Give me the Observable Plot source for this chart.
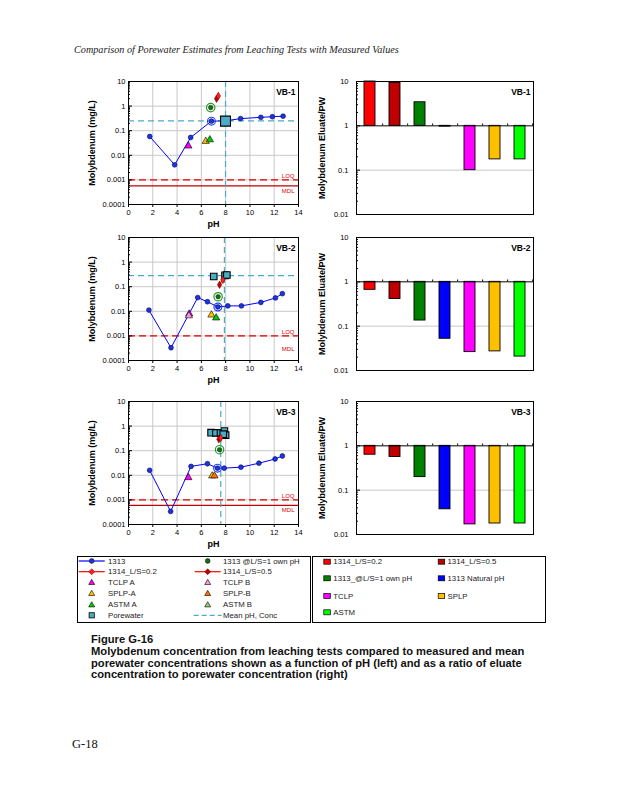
<!DOCTYPE html>
<html><head><meta charset="utf-8">
<script src="https://cdn.jsdelivr.net/npm/d3@7"></script>
<script src="https://cdn.jsdelivr.net/npm/@observablehq/plot@0.6"></script>
<style>
body{margin:0;background:#fff;}
#page{position:relative;width:618px;height:800px;overflow:hidden;font-family:"Liberation Sans",Arial,sans-serif;}
.abs{position:absolute;white-space:nowrap;}
</style></head><body><div id="page"></div>
<script>
// ---------- data ----------
const panels = ["VB-1", "VB-2", "VB-3"];
const xTicksPH = [0, 2, 4, 6, 8, 10, 12, 14];
const yTicksConc = [10, 1, 0.1, 0.01, 0.001, 0.0001];
const yTickLabelsConc = ["10", "1", "0.1", "0.01", "0.001", "0.0001"];
const yTicksRatio = [10, 1, 0.1, 0.01];
const yTickLabelsRatio = ["10", "1", "0.1", "0.01"];
const barCategories = ["1314_L/S=0.2", "1314_L/S=0.5", "1313_@L/S=1 own pH", "1313 Natural pH", "TCLP", "SPLP", "ASTM"];
const barColors = ["#ff0000", "#c00000", "#008000", "#0000ff", "#ff00ff", "#ffc000", "#00ff00"];

// 1313 titration series (pH, mg/L)
const ph1313 = [
  [1.75, 3.8, 5.12, 6.83, 7.95, 9.23, 10.9, 11.85, 12.73],
  [1.68, 3.5, 5.7, 6.5, 7.36, 8.18, 9.3, 10.9, 12.1, 12.67],
  [1.74, 3.47, 5.15, 6.5, 7.33, 7.88, 9.26, 10.74, 12.07, 12.67]
];
const mo1313 = [
  [0.058, 0.0041, 0.053, 0.245, 0.25, 0.31, 0.35, 0.37, 0.39],
  [0.0112, 0.00033, 0.036, 0.0245, 0.015, 0.0166, 0.0166, 0.023, 0.035, 0.052],
  [0.016, 0.00034, 0.023, 0.0295, 0.0195, 0.0195, 0.0214, 0.031, 0.046, 0.061]
];
const phNatural = [6.83, 7.36, 7.33];
const moNatural = [0.245, 0.015, 0.0195];
const phOwn = [6.77, 7.38, 7.5];
const moOwn = [0.87, 0.039, 0.11];
const ph1314_02 = [7.4, 7.77, 7.6];
const mo1314_02 = [2.6, 0.19, 0.33];
const ph1314_05 = [7.25, 7.5, 7.44];
const mo1314_05 = [2.0, 0.12, 0.29];
const tclpA = [[[4.93, 0.024]], [[5.0, 0.0078]], [[4.93, 0.0081]]];
const tclpB = [[], [[4.97, 0.0066]], []];
const splpA = [[[6.36, 0.037]], [[6.83, 0.0071]], [[6.89, 0.0095]]];
const splpB = [[], [], [[7.08, 0.0095]]];
const astmA = [[[6.7, 0.043]], [[7.22, 0.0054]], []];
const astmB = [[], [], []];
const porewater = [
  [[7.99, 0.245]],
  [[7.02, 0.26], [7.95, 0.29], [8.1, 0.30]],
  [[6.8, 0.54], [7.2, 0.53], [7.58, 0.53], [7.9, 0.63], [8.0, 0.43], [7.8, 0.47]]
];
const meanPH = [7.99, 7.9, 7.6];
const meanConc = [0.25, 0.28, null];
const loq = [0.001, 0.001, 0.001];
const mdl = [0.00057, null, 0.0006];
const mdlLabelAt = [0.00057, 0.00045, 0.0006];
// eluate / porewater ratios
const ratios = [
  [10, 9.3, 3.4, 0.96, 0.1, 0.175, 0.175],
  [0.66, 0.41, 0.134, 0.052, 0.026, 0.027, 0.0206],
  [0.63, 0.56, 0.197, 0.037, 0.0169, 0.0177, 0.0177]
];

// ---------- layout ----------
const page = document.getElementById("page");
const frameTops = [81, 237, 401];
const FONT = "Liberation Sans, Arial, sans-serif";
const cyan = "#4bacc6";

function minorTicks(lo, hi) {
  const t = [];
  for (let e = lo; e < hi; e++) for (let k = 2; k <= 9; k++) t.push(k * Math.pow(10, e));
  return t;
}

function place(el, left, top) {
  el.style.position = "absolute";
  el.style.left = left + "px";
  el.style.top = top + "px";
  page.appendChild(el);
}

function leftPlot(i) {
  const pts = ph1313[i].map((x, j) => ({x, y: mo1313[i][j]}));
  const pairs14 = [{x: ph1314_05[i], y: mo1314_05[i], c: "#c00000"}, {x: ph1314_02[i], y: mo1314_02[i], c: "#ff2020"}];
  const tri = (arr, color) => Plot.dot(arr, {x: d => d[0], y: d => d[1], symbol: "triangle", r: 2.7, fill: color, stroke: "#000", strokeWidth: 0.6});
  const marks = [
    Plot.gridX(xTicksPH, {stroke: "#c8c8c8", strokeOpacity: 1}),
    Plot.gridY(yTicksConc, {stroke: "#c8c8c8", strokeOpacity: 1}),
    Plot.ruleY([loq[i]], {stroke: "#e00000", strokeWidth: 1.3, strokeDasharray: "7,4"}),
    mdl[i] != null ? Plot.ruleY([mdl[i]], {stroke: "#c00000", strokeWidth: 1.1}) : null,
    Plot.text(["LOQ"], {x: 14, y: loq[i], dx: -4, dy: -4, text: d => d, textAnchor: "end", fill: "#d00000", fontSize: 6}),
    Plot.text(["MDL"], {x: 14, y: mdlLabelAt[i], dx: -4, dy: 5, text: d => d, textAnchor: "end", fill: "#d00000", fontSize: 6}),
    Plot.ruleX([meanPH[i]], {stroke: cyan, strokeWidth: 1.2, strokeDasharray: "6,4"}),
    meanConc[i] != null ? Plot.ruleY([meanConc[i]], {stroke: cyan, strokeWidth: 1.2, strokeDasharray: "6,4"}) : null,
    Plot.line(pts, {x: "x", y: "y", stroke: "#0000ff", strokeWidth: 1}),
    Plot.dot(pts, {x: "x", y: "y", r: 2.4, fill: "#1f35d6", stroke: "#000070", strokeWidth: 0.6}),
    tri(tclpA[i], "#ff00ff"), tri(tclpB[i], "#ff99dd"),
    tri(splpA[i], "#ffc000"), tri(splpB[i], "#ff7000"),
    tri(astmA[i], "#00cc00"), tri(astmB[i], "#99cc66"),
    Plot.dot(porewater[i], {x: d => d[0], y: d => d[1], symbol: "square", r: i === 0 ? 5.6 : 3.7, fill: cyan, stroke: "#000", strokeWidth: 1.1}),
    Plot.line(pairs14, {x: "x", y: "y", stroke: "#ff0000", strokeWidth: 1}),
    Plot.dot(pairs14, {x: "x", y: "y", symbol: "diamond", r: 2.3, fill: "c", stroke: "#600", strokeWidth: 0.5}),
    Plot.dot([[phOwn[i], moOwn[i]]], {x: d => d[0], y: d => d[1], r: 4.2, fill: "none", stroke: "#22a022", strokeWidth: 1.2}),
    Plot.dot([[phOwn[i], moOwn[i]]], {x: d => d[0], y: d => d[1], r: 2.3, fill: "#1a6a1a", stroke: "#003300", strokeWidth: 0.5}),
    Plot.dot([[phNatural[i], moNatural[i]]], {x: d => d[0], y: d => d[1], r: 3.9, fill: "none", stroke: "#2040ff", strokeWidth: 1.2}),
    Plot.frame({stroke: "#000", strokeWidth: 1}),
    Plot.axisX(xTicksPH, {tickSize: 3, tickPadding: 2, fontSize: 7.5, label: null}),
    Plot.axisY(yTicksConc, {tickSize: 0, tickPadding: 3, fontSize: 7.5, label: null, tickFormat: d => yTickLabelsConc[yTicksConc.indexOf(d)]}),
    Plot.axisY(yTicksConc, {tickSize: -4, tickFormat: () => "", label: null}),
    Plot.axisY(minorTicks(-4, 1), {tickSize: -2, tickFormat: () => "", label: null}),
    Plot.text([panels[i]], {frameAnchor: "top-right", dx: -3, dy: 7, text: d => d, fontWeight: "bold", fontSize: 8.5}),
    Plot.text(["pH"], {frameAnchor: "bottom", dy: 22, text: d => d, fontWeight: "bold", fontSize: 9}),
    Plot.text(["Molybdenum (mg/L)"], {frameAnchor: "left", textAnchor: "middle", dx: -36, rotate: -90, text: d => d, fontWeight: "bold", fontSize: 9})
  ].filter(Boolean);
  return Plot.plot({
    width: 230, height: 163, marginLeft: 40, marginRight: 20, marginTop: 8, marginBottom: 32,
    x: {domain: [0, 14]},
    y: {type: "log", domain: [0.0001, 10]},
    color: {type: "identity"},
    style: {fontFamily: FONT, fontSize: "7px", background: "transparent", overflow: "visible"},
    marks
  });
}

function rightPlot(i) {
  const bars = barCategories.map((c, j) => ({c, v: ratios[i][j], color: barColors[j]}));
  return Plot.plot({
    width: 227, height: 153, marginLeft: 40, marginRight: 10, marginTop: 8, marginBottom: 12,
    x: {domain: barCategories, paddingInner: 0.57, paddingOuter: 0.285, axis: null},
    y: {type: "log", domain: [0.01, 10]},
    color: {type: "identity"},
    style: {fontFamily: FONT, fontSize: "7px", background: "transparent", overflow: "visible"},
    marks: [
      Plot.gridY([0.1], {stroke: "#c8c8c8", strokeOpacity: 1}),
      Plot.barY(bars, {x: "c", y1: 1, y2: "v", fill: "color", stroke: "#000", strokeWidth: 0.9}),
      Plot.ruleY([1], {stroke: "#000", strokeWidth: 1}),
      Plot.ruleX(barCategories, {x: d => d, y1: 1, y2: 1.1, dx: 12.65, stroke: "#000"}),
      Plot.frame({stroke: "#000", strokeWidth: 1}),
      Plot.axisY(yTicksRatio, {tickSize: 0, tickPadding: 8, fontSize: 7.5, label: null, tickFormat: d => yTickLabelsRatio[yTicksRatio.indexOf(d)]}),
      Plot.axisY(yTicksRatio, {tickSize: -4, tickFormat: () => "", label: null}),
      Plot.axisY(minorTicks(-2, 1), {tickSize: -2, tickFormat: () => "", label: null}),
      Plot.text([panels[i]], {frameAnchor: "top-right", dx: -3, dy: 7, text: d => d, fontWeight: "bold", fontSize: 8.5}),
      Plot.text(["Molybdenum Eluate/PW"], {frameAnchor: "left", textAnchor: "middle", dx: -34, rotate: -90, text: d => d, fontWeight: "bold", fontSize: 9})
    ]
  });
}

panels.forEach((p, i) => {
  place(leftPlot(i), 88, frameTops[i] - 8);
  place(rightPlot(i), 316, frameTops[i] - 8);
});

// ---------- header, legend, caption ----------
function addText(txt, left, top, css) {
  const d = document.createElement("div");
  d.className = "abs";
  d.textContent = txt;
  d.style.left = left + "px";
  d.style.top = top + "px";
  d.style.cssText += css;
  page.appendChild(d);
  return d;
}
addText("Comparison of Porewater Estimates from Leaching Tests with Measured Values", 74, 44,
  "font-family:'Liberation Serif','Times New Roman',serif;font-style:italic;font-size:10.2px;color:#222;");

const NS = "http://www.w3.org/2000/svg";
const leg = document.createElementNS(NS, "svg");
leg.setAttribute("width", 618); leg.setAttribute("height", 80);
leg.style.position = "absolute"; leg.style.left = "0px"; leg.style.top = "550px";
leg.style.fontFamily = FONT;
let s = "";
const oy = 550;
s += `<rect x="77.5" y="${556.5 - oy}" width="233" height="66" fill="none" stroke="#000" stroke-width="1"/>`;
s += `<rect x="312.5" y="${556.5 - oy}" width="233" height="66" fill="none" stroke="#000" stroke-width="1"/>`;
const rowsL = [561, 571.7, 582.3, 593.3, 604.7, 615.3];
function tri(cx, cy, fill) {
  return `<path d="M${cx},${cy - 3} L${cx + 3},${cy + 2.2} L${cx - 3},${cy + 2.2} Z" fill="${fill}" stroke="#000" stroke-width="0.6"/>`;
}
function diam(cx, cy, fill) {
  return `<path d="M${cx},${cy - 3} L${cx + 3},${cy} L${cx},${cy + 3} L${cx - 3},${cy} Z" fill="${fill}" stroke="#600" stroke-width="0.5"/>`;
}
function txt(x, y, t) {
  return `<text x="${x}" y="${y}" dy="0.35em" font-size="7.8" fill="#222">${t}</text>`;
}
const lx = 91.7, rx = 207.7;
const leftItems = [
  ["line", "#0000ff", "circle", "#1f35d6", "1313"],
  ["line", "#ff0000", "diamond", "#ff2020", "1314_L/S=0.2"],
  ["none", null, "tri", "#ff00ff", "TCLP A"],
  ["none", null, "tri", "#ffc000", "SPLP-A"],
  ["none", null, "tri", "#00cc00", "ASTM A"],
  ["none", null, "square", cyan, "Porewater"]
];
const rightItems = [
  ["none", null, "circle", "#1a6a1a", "1313 @L/S=1 own pH"],
  ["line", "#ff0000", "diamond", "#c00000", "1314_L/S=0.5"],
  ["none", null, "tri", "#ff99dd", "TCLP B"],
  ["none", null, "tri", "#ff7000", "SPLP-B"],
  ["none", null, "tri", "#99cc66", "ASTM B"],
  ["dash", cyan, "none", null, "Mean pH, Conc"]
];
function item(it, cx, cy, textX) {
  const [ln, lc, mk, mc, label] = it;
  let r = "";
  if (ln === "line") r += `<line x1="${cx - 13}" x2="${cx + 13}" y1="${cy}" y2="${cy}" stroke="${lc}" stroke-width="1.2"/>`;
  if (ln === "dash") r += `<line x1="${cx - 14}" x2="${cx + 14}" y1="${cy}" y2="${cy}" stroke="${lc}" stroke-width="1.3" stroke-dasharray="5,3"/>`;
  if (mk === "circle") r += `<circle cx="${cx}" cy="${cy}" r="2.4" fill="${mc}" stroke="#000" stroke-width="0.5"/>`;
  if (mk === "diamond") r += diam(cx, cy, mc);
  if (mk === "tri") r += tri(cx, cy, mc);
  if (mk === "square") r += `<rect x="${cx - 2.6}" y="${cy - 2.6}" width="5.2" height="5.2" fill="${mc}" stroke="#000" stroke-width="0.8"/>`;
  r += txt(textX, cy, label);
  return r;
}
leftItems.forEach((it, k) => { s += item(it, lx, rowsL[k] - oy, 108); });
rightItems.forEach((it, k) => { s += item(it, rx, rowsL[k] - oy, 223); });

const rowsR = [561.7, 578.3, 596, 612.3];
barCategories.forEach((c, j) => {
  const row = Math.floor(j / 2), col = j % 2;
  const mx = col === 0 ? 327.3 : 441.7;
  const tx = col === 0 ? 333.3 : 447.5;
  const cy = rowsR[row] - oy;
  s += `<rect x="${mx - 3.5}" y="${cy - 2.5}" width="6.5" height="5" fill="${barColors[j]}" stroke="#000" stroke-width="0.7"/>`;
  s += txt(tx, cy, c);
});
leg.innerHTML = s;
page.appendChild(leg);

const cap = document.createElement("div");
cap.className = "abs";
cap.style.cssText += "left:91px;top:634px;font-family:'Liberation Sans',Arial,sans-serif;font-weight:bold;font-size:11.2px;line-height:11.8px;color:#111;";
cap.innerHTML = "Figure G-16<br>Molybdenum concentration from leaching tests compared to measured and mean<br>porewater concentrations shown as a function of pH (left) and as a ratio of eluate<br>concentration to porewater concentration (right)";
page.appendChild(cap);

addText("G-18", 72, 737, "font-family:'Liberation Serif','Times New Roman',serif;font-size:12.5px;color:#111;");
</script></body></html>
